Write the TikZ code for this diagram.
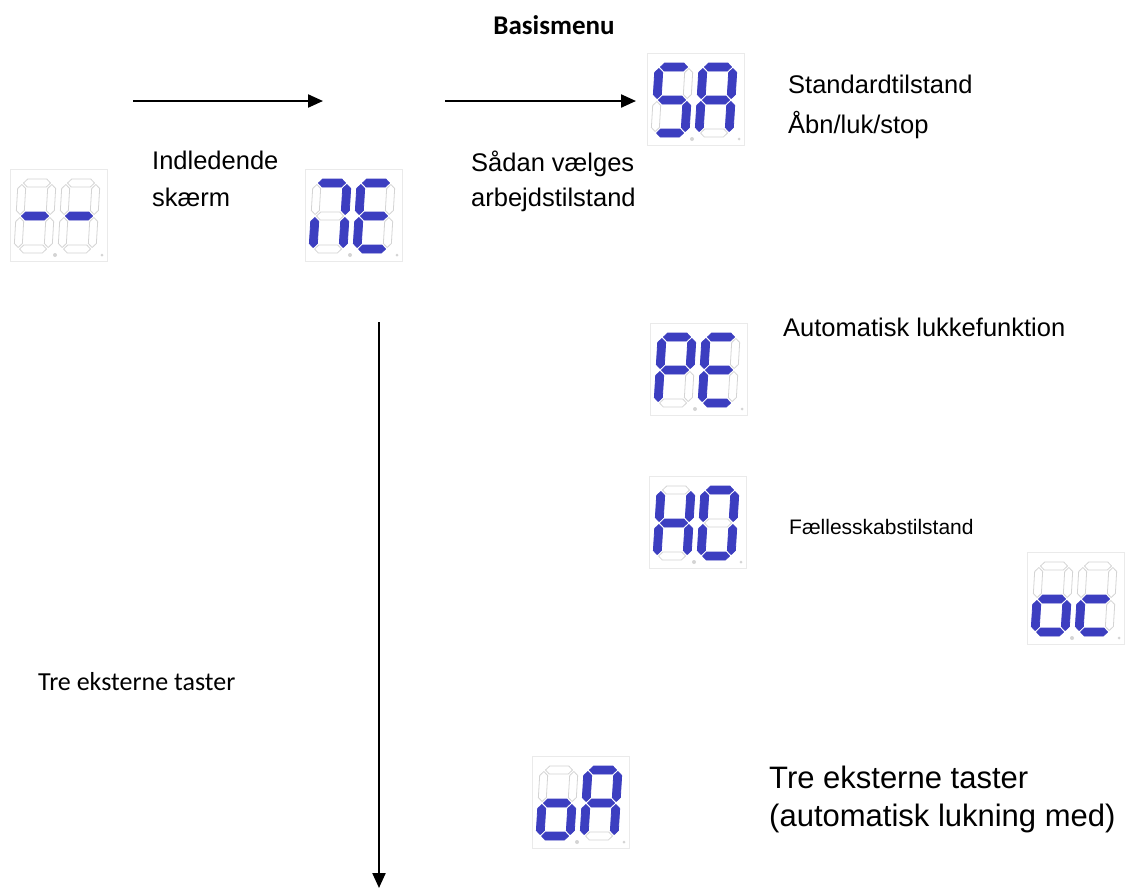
\documentclass[tikz,border=0pt]{standalone}
\usepackage{fontspec}
\setmainfont{Liberation Sans}
\newfontfamily\calfont{Carlito}
\usetikzlibrary{arrows.meta}
\definecolor{segblue}{RGB}{60,62,192}
\definecolor{seggray}{RGB}{212,212,212}
\definecolor{boxgray}{RGB}{234,234,234}
\tikzset{
  seg1/.style={fill=segblue, draw=segblue, line width=0.8pt, line join=round},
  seg0/.style={fill=white, draw=seggray, line width=0.8pt, line join=round},
  dispbox/.style={draw=boxgray, line width=0.8pt},
  dpdot/.style={fill=seggray, draw=none},
  flow/.style={line width=2.2pt, -{Triangle[length=15pt,width=13pt]}},
  lbl/.style={anchor=base west, inner sep=0pt, font=\fontsize{25.5}{30}\selectfont},
  lblsmall/.style={anchor=base west, inner sep=0pt, font=\fontsize{21}{25}\selectfont},
  lblbig/.style={anchor=base west, inner sep=0pt, font=\fontsize{31}{37}\selectfont},
  lblcal/.style={anchor=base west, inner sep=0pt, font=\calfont\fontsize{26}{30}\selectfont},
  lbltitle/.style={anchor=base, inner sep=0pt, font=\calfont\bfseries\fontsize{27}{30}\selectfont},
}
\newcommand\hseg[2]{\path[#1] (1.5,#2)--(5.5,#2-4)--(24.5,#2-4)--(28.5,#2)--(24.5,#2+4)--(5.5,#2+4)--cycle;}
\newcommand\vseg[3]{\path[#1] (#2,#3+1.5)--(#2+4,#3+5.5)--(#2+4,#3+27.5)--(#2,#3+31.5)--(#2-4,#3+27.5)--(#2-4,#3+5.5)--cycle;}
% x y a b c d e f g
\newcommand\segdigit[9]{%
  \begin{scope}[shift={(#1,#2)}, xslant=0.06]
    \hseg{seg#3}{0}\vseg{seg#4}{30}{0}\vseg{seg#5}{30}{33}\hseg{seg#6}{66}%
    \vseg{seg#7}{0}{33}\vseg{seg#8}{0}{0}\hseg{seg#9}{33}%
  \end{scope}}
\newcommand\dispframe{%
  \draw[dispbox] (0,0) rectangle (97,92);
  \fill[dpdot] (45,86) circle (2);
  \fill[dpdot] (92,86) circle (1.5);}
\begin{document}
\begin{tikzpicture}[x=1pt,y=-1pt]
\useasboundingbox[fill=white] (0,0) rectangle (1139,895);
% displays
\begin{scope}[shift={(10,169)}]\dispframe
  \segdigit{12}{14}{0}{0}{0}{0}{0}{0}{1}\segdigit{56}{14}{0}{0}{0}{0}{0}{0}{1}\end{scope}
\begin{scope}[shift={(305,169)}]\dispframe
  \segdigit{12}{14}{1}{1}{1}{0}{1}{0}{0}\segdigit{56}{14}{1}{0}{0}{1}{1}{1}{1}\end{scope}
\begin{scope}[shift={(647,53)}]\dispframe
  \segdigit{12}{14}{1}{0}{1}{1}{0}{1}{1}\segdigit{56}{14}{1}{1}{1}{0}{1}{1}{1}\end{scope}
\begin{scope}[shift={(650,323)}]\dispframe
  \segdigit{12}{14}{1}{1}{0}{0}{1}{1}{1}\segdigit{56}{14}{1}{0}{0}{1}{1}{1}{1}\end{scope}
\begin{scope}[shift={(649,476)}]\dispframe
  \segdigit{12}{14}{0}{1}{1}{0}{1}{1}{1}\segdigit{56}{14}{1}{1}{1}{1}{1}{1}{0}\end{scope}
\begin{scope}[shift={(1027,552)}]\dispframe
  \segdigit{12}{14}{0}{0}{1}{1}{1}{0}{1}\segdigit{56}{14}{0}{0}{0}{1}{1}{0}{1}\end{scope}
\begin{scope}[shift={(532,756)}]\dispframe
  \segdigit{12}{14}{0}{0}{1}{1}{1}{0}{1}\segdigit{56}{14}{1}{1}{1}{0}{1}{1}{1}\end{scope}
% arrows
\coordinate (a1s) at (133,101);
\coordinate (a1e) at (323,101);
\coordinate (a2s) at (445,101);
\coordinate (a2e) at (636,101);
\coordinate (a3s) at (379,322);
\coordinate (a3e) at (379,888);
\draw[flow] (a1s) -- (a1e);
\draw[flow] (a2s) -- (a2e);
\draw[flow] (a3s) -- (a3e);
% labels
\node[lbltitle] (basis) at (554,34) {Basismenu};
\node[lbl] (ind1) at (152,169) {Indledende};
\node[lbl] (ind2) at (152,206) {skærm};
\node[lbl] (sad1) at (471,171) {Sådan vælges};
\node[lbl] (sad2) at (471,206) {arbejdstilstand};
\node[lbl] (std1) at (788,93) {Standardtilstand};
\node[lbl] (std2) at (788,133) {Åbn/luk/stop};
\node[lbl] (auto) at (783,336) {Automatisk lukkefunktion};
\node[lblsmall] (faell) at (789,534) {Fællesskabstilstand};
\node[lblcal] (tre1) at (38,690) {Tre eksterne taster};
\node[lblbig] (tre2) at (769,788) {Tre eksterne taster};
\node[lblbig] (tre3) at (769,826) {(automatisk lukning med)};
\end{tikzpicture}
\end{document}
